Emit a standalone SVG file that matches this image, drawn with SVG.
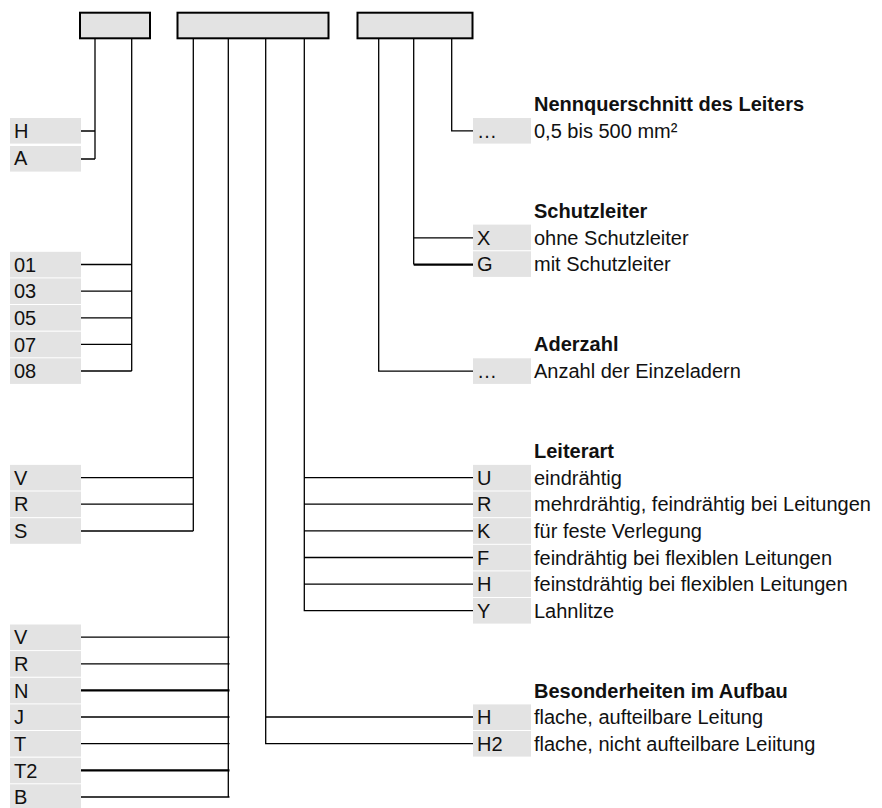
<svg xmlns="http://www.w3.org/2000/svg" width="882" height="808" viewBox="0 0 882 808">
<style>
.top{fill:#e3e3e3;stroke:#000;stroke-width:2}
.lb{fill:#e3e3e3}
.t{font-family:"Liberation Sans",Arial,sans-serif;font-size:20px;fill:#111}
.h{font-family:"Liberation Sans",Arial,sans-serif;font-size:20px;font-weight:bold;fill:#111}
.c{fill:none;stroke:#000;stroke-width:1.3}
.c2{fill:none;stroke:#000;stroke-width:2.2}
</style>
<rect width="882" height="808" fill="#fff"/>
<g id="box1"><rect class="top" x="80" y="12.7" width="70" height="25.6"/></g>
<g id="box2"><rect class="top" x="177.5" y="12.7" width="151" height="25.6"/></g>
<g id="box3"><rect class="top" x="357.5" y="12.7" width="115" height="25.6"/></g>

<g id="connectors">
<path class="c" d="M95,39V159M80,131H95M80,159H95"/>
<path class="c" d="M131.7,39V371M80,264.5H131.7M80,291.2H131.7M80,317.8H131.7M80,344.4H131.7M80,371H131.7"/>
<path class="c" d="M193.3,39V531M80,477.6H193.3M80,504.2H193.3M80,531H193.3"/>
<path class="c" d="M228.3,39V797M80,637.2H229.5M80,663.9H229.5M80,717H229.5M80,743.6H229.5M80,797H229.5"/>
<path class="c2" d="M80,690.4H229.5M80,770.3H229.5"/>
<path class="c" d="M265.7,39V743.6H473M265.7,717H473"/>
<path class="c" d="M304.3,39V610.6H473M304.3,477.6H473M304.3,504.2H473M304.3,530.9H473M304.3,557.5H473M304.3,584.1H473"/>
<path class="c" d="M378.7,39V371.2H473"/>
<path class="c" d="M413.7,39V264.6M413.7,237.9H473"/>
<path class="c2" d="M413.7,264.6H473"/>
<path class="c" d="M451.7,39V130.8H473"/>
</g>

<g id="row-H"><rect class="lb" x="10" y="118" width="71" height="25.6"/><text class="t" x="14" y="138">H</text></g>
<g id="row-A"><rect class="lb" x="10" y="146" width="71" height="25.6"/><text class="t" x="14" y="165">A</text></g>
<g id="row-01"><rect class="lb" x="10" y="251.8" width="71" height="25.6"/><text class="t" x="14" y="271.6">01</text></g>
<g id="row-03"><rect class="lb" x="10" y="278.4" width="71" height="25.6"/><text class="t" x="14" y="298.2">03</text></g>
<g id="row-05"><rect class="lb" x="10" y="305" width="71" height="25.6"/><text class="t" x="14" y="324.8">05</text></g>
<g id="row-07"><rect class="lb" x="10" y="331.7" width="71" height="25.6"/><text class="t" x="14" y="351.5">07</text></g>
<g id="row-08"><rect class="lb" x="10" y="358.3" width="71" height="25.6"/><text class="t" x="14" y="378.1">08</text></g>
<g id="row-V1"><rect class="lb" x="10" y="464.9" width="71" height="25.6"/><text class="t" x="14" y="484.7">V</text></g>
<g id="row-R1"><rect class="lb" x="10" y="491.5" width="71" height="25.6"/><text class="t" x="14" y="511.3">R</text></g>
<g id="row-S"><rect class="lb" x="10" y="518.2" width="71" height="25.6"/><text class="t" x="14" y="538">S</text></g>
<g id="row-V2"><rect class="lb" x="10" y="624.5" width="71" height="25.6"/><text class="t" x="14" y="644.3">V</text></g>
<g id="row-R2"><rect class="lb" x="10" y="651.1" width="71" height="25.6"/><text class="t" x="14" y="670.9">R</text></g>
<g id="row-N"><rect class="lb" x="10" y="677.8" width="71" height="25.6"/><text class="t" x="14" y="697.6">N</text></g>
<g id="row-J"><rect class="lb" x="10" y="704.4" width="71" height="25.6"/><text class="t" x="14" y="724.2">J</text></g>
<g id="row-T"><rect class="lb" x="10" y="731" width="71" height="25.6"/><text class="t" x="14" y="750.8">T</text></g>
<g id="row-T2"><rect class="lb" x="10" y="757.7" width="71" height="25.6"/><text class="t" x="14" y="777.5">T2</text></g>
<g id="row-B"><rect class="lb" x="10" y="784.3" width="71" height="25.6"/><text class="t" x="14" y="804.1">B</text></g>

<g id="sec-querschnitt">
<text class="h" x="534" y="111.4">Nennquerschnitt des Leiters</text>
<rect class="lb" x="473" y="118" width="58" height="25.6"/><text class="t" x="477" y="138">…</text>
<text class="t" x="534" y="138">0,5 bis 500 mm²</text>
</g>
<g id="sec-schutzleiter">
<text class="h" x="534" y="217.7">Schutzleiter</text>
<rect class="lb" x="473" y="224.6" width="58" height="25.6"/><text class="t" x="477" y="244.6">X</text>
<text class="t" x="534" y="244.6">ohne Schutzleiter</text>
<rect class="lb" x="473" y="251.3" width="58" height="25.6"/><text class="t" x="477" y="271.3">G</text>
<text class="t" x="534" y="271.3">mit Schutzleiter</text>
</g>
<g id="sec-aderzahl">
<text class="h" x="534" y="351.4">Aderzahl</text>
<rect class="lb" x="473" y="358.3" width="58" height="25.6"/><text class="t" x="477" y="378.1">…</text>
<text class="t" x="534" y="378.1">Anzahl der Einzeladern</text>
</g>
<g id="sec-leiterart">
<text class="h" x="534" y="457.8">Leiterart</text>
<rect class="lb" x="473" y="464.9" width="58" height="25.6"/><text class="t" x="477" y="484.7">U</text>
<text class="t" x="534" y="484.7">eindrähtig</text>
<rect class="lb" x="473" y="491.5" width="58" height="25.6"/><text class="t" x="477" y="511.3">R</text>
<text class="t" x="534" y="511.3">mehrdrähtig, feindrähtig bei Leitungen</text>
<rect class="lb" x="473" y="518.2" width="58" height="25.6"/><text class="t" x="477" y="538">K</text>
<text class="t" x="534" y="538">für feste Verlegung</text>
<rect class="lb" x="473" y="544.8" width="58" height="25.6"/><text class="t" x="477" y="564.6">F</text>
<text class="t" x="534" y="564.6">feindrähtig bei flexiblen Leitungen</text>
<rect class="lb" x="473" y="571.4" width="58" height="25.6"/><text class="t" x="477" y="591.2">H</text>
<text class="t" x="534" y="591.2">feinstdrähtig bei flexiblen Leitungen</text>
<rect class="lb" x="473" y="598" width="58" height="25.6"/><text class="t" x="477" y="617.8">Y</text>
<text class="t" x="534" y="617.8">Lahnlitze</text>
</g>
<g id="sec-aufbau">
<text class="h" x="534" y="697.5">Besonderheiten im Aufbau</text>
<rect class="lb" x="473" y="704.4" width="58" height="25.6"/><text class="t" x="477" y="724.2">H</text>
<text class="t" x="534" y="724.2">flache, aufteilbare Leitung</text>
<rect class="lb" x="473" y="731" width="58" height="25.6"/><text class="t" x="477" y="750.8">H2</text>
<text class="t" x="534" y="750.8">flache, nicht aufteilbare Leiitung</text>
</g>
</svg>
